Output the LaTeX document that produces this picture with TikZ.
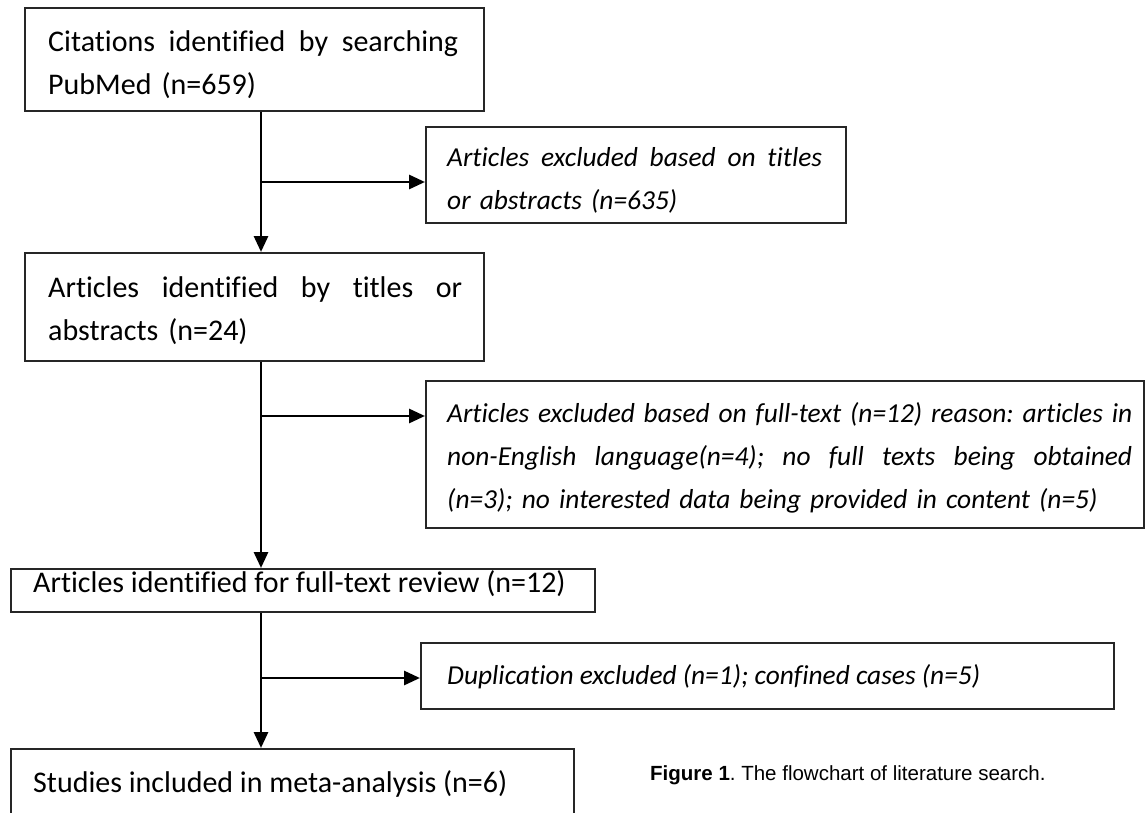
\documentclass[tikz,border=0pt]{standalone}
\usepackage{fontspec}
\setmainfont{Carlito}[Ligatures={NoCommon}]
\newfontfamily\capfont{Liberation Sans}
\usetikzlibrary{arrows.meta}
\frenchspacing
\newcommand{\jl}[2]{\makebox[#1][s]{\spaceskip=0.226em plus 1fil minus 0.08em\relax #2}}
\begin{document}
\begin{tikzpicture}[x=1pt,y=-1pt,
  box/.style={draw=black!85,line width=1.6pt,anchor=north west,inner sep=0pt},
  txt/.style={anchor=base west,inner sep=0pt,font=\fontsize{30}{43}\selectfont\frenchspacing},
  itxt/.style={txt,font=\fontsize{27.4}{43}\selectfont\itshape\frenchspacing},
  arr/.style={line width=2.9pt,-{Triangle[length=16pt,width=14pt]}}]
\useasboundingbox (0,0) rectangle (1145,813);
\begin{scope}
\clip (0,0) rectangle (1145,813);
% main boxes
\node[box,minimum width=459pt,minimum height=103pt] (b1) at (24,7) {};
\node[txt,text width=410pt] (t1) at (48,52) {\jl{410pt}{Citations identified by searching}\\PubMed (n=659)};
\node[box,minimum width=459pt,minimum height=108pt] (b2) at (24,252) {};
\node[txt,text width=414pt] (t2) at (48,297) {\jl{414pt}{Articles identified by titles or}\\abstracts (n=24)};
\node[box,minimum width=584pt,minimum height=43pt] (b3) at (10,568) {};
\node[txt] (t3) at (33,592) {Articles identified for full-text review (n=12)};
\node[box,minimum width=563pt,minimum height=80pt] (b4) at (10,748) {};
\node[txt] (t4) at (33,792) {Studies included in meta-analysis (n=6)};
% exclusion boxes
\node[box,minimum width=420pt,minimum height=96pt] (e1) at (425,126) {};
\node[itxt,text width=375pt] (s1) at (447,167) {\jl{375pt}{Articles excluded based on titles}\\or abstracts (n=635)};
\node[box,minimum width=718pt,minimum height=147pt] (e2) at (425,380) {};
\node[itxt,text width=685pt] (s2) at (447,422) {\jl{685pt}{Articles excluded based on full-text (n=12) reason: articles in}\\\jl{685pt}{non-English language(n=4); no full texts being obtained}\\(n=3); no interested data being provided in content (n=5)};
\node[box,minimum width=693pt,minimum height=66pt] (e3) at (420,642) {};
\node[itxt] (s3) at (447,684) {Duplication excluded (n=1); confined cases (n=5)};
% junctions
\coordinate (j1) at (261,182);
\coordinate (j2) at (261,416);
\coordinate (j3) at (261,678);
\draw[arr] (b1.south -| j1) -- (b2.north -| j1);
\draw[arr] (b2.south -| j2) -- (b3.north -| j2);
\draw[arr] (b3.south -| j3) -- (b4.north -| j3);
\draw[arr] (j1) -- (j1 -| e1.west);
\draw[arr] (j2) -- (j2 -| e2.west);
\draw[arr] (j3) -- (j3 -| e3.west);
\end{scope}
\node[anchor=base west,inner sep=0pt,font=\capfont\fontsize{20.5}{24}\selectfont] (cap) at (650,780) {\textbf{Figure 1}. The flowchart of literature search.};
\end{tikzpicture}
\end{document}
